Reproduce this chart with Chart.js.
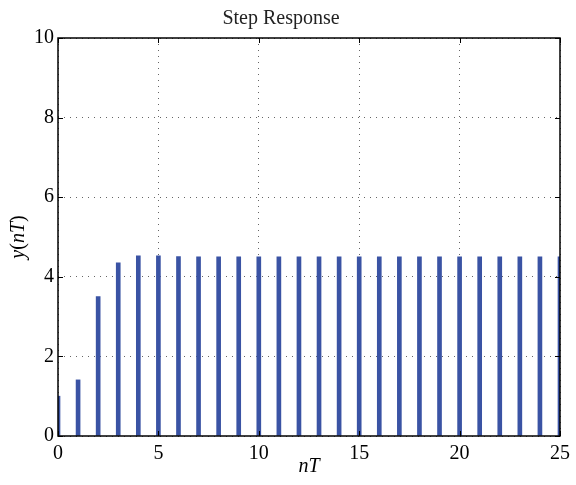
<!DOCTYPE html>
<html>
<head>
<meta charset="utf-8">
<script src="https://cdn.jsdelivr.net/npm/chart.js"></script>
<style>
  html,body{margin:0;padding:0;background:#fff}
  #wrap{width:576px;height:485px}
</style>
</head>
<body>
<div id="wrap"><canvas id="c"></canvas></div>
<script>
const nValues=[0,1,2,3,4,5,6,7,8,9,10,11,12,13,14,15,16,17,18,19,20,21,22,23,24,25];
const yValues=[1.0,1.41,3.5,4.35,4.53,4.53,4.51,4.5,4.5,4.5,4.5,4.5,4.5,4.5,4.5,4.5,4.5,4.5,4.5,4.5,4.5,4.5,4.5,4.5,4.5,4.5];
const xTicks=[0,5,10,15,20,25];
const yTicks=[0,2,4,6,8,10];
const titleText="Step Response";

const SERIF="'Liberation Serif','Times New Roman',serif";

// box, inward ticks and axis labels in MATLAB style
const matlabFrame={
  id:"matlabFrame",
  afterDraw(chart){
    const {ctx,chartArea:a,scales:{x,y}}=chart;
    ctx.save();
    ctx.strokeStyle="#000";
    ctx.lineWidth=1;
    ctx.beginPath();
    xTicks.forEach(v=>{
      const p=Math.round(x.getPixelForValue(v))+0.5;
      ctx.moveTo(p,a.bottom);ctx.lineTo(p,a.bottom-5);
      ctx.moveTo(p,a.top);ctx.lineTo(p,a.top+5);
    });
    yTicks.forEach(v=>{
      const p=Math.round(y.getPixelForValue(v))+0.5;
      ctx.moveTo(a.left,p);ctx.lineTo(a.left+5,p);
      ctx.moveTo(a.right,p);ctx.lineTo(a.right-5,p);
    });
    ctx.stroke();
    ctx.lineWidth=1.5;
    ctx.strokeRect(a.left,a.top,a.right-a.left,a.bottom-a.top);

    ctx.fillStyle="#000";
    ctx.textBaseline="middle";
    // x label
    ctx.font="italic 20px "+SERIF;
    ctx.textAlign="center";
    ctx.fillText("nT",(a.left+a.right)/2,467);
    // y label with mixed styles
    const parts=[["y",true],["(",false],["nT",true],[")",false]];
    const fontOf=it=>(it?"italic ":"")+"20px "+SERIF;
    let total=0;
    parts.forEach(([t,it])=>{ctx.font=fontOf(it);total+=ctx.measureText(t).width;});
    ctx.translate(19,(a.top+a.bottom)/2);
    ctx.rotate(-Math.PI/2);
    ctx.textAlign="left";
    let px=-total/2;
    parts.forEach(([t,it])=>{ctx.font=fontOf(it);ctx.fillText(t,px,0);px+=ctx.measureText(t).width;});
    ctx.restore();
  }
};

new Chart(document.getElementById("c"),{
  type:"bar",
  data:{
    datasets:[{
      data:nValues.map((n,i)=>({x:n,y:yValues[i]})),
      backgroundColor:"#3a53a4",
      borderWidth:0,
      barThickness:4
    }]
  },
  options:{
    responsive:true,
    maintainAspectRatio:false,
    animation:false,
    layout:{padding:{top:0,right:14,left:0,bottom:0}},
    plugins:{
      legend:{display:false},
      tooltip:{enabled:false},
      title:{
        display:true,
        text:titleText,
        color:"#222",
        font:{family:SERIF,size:20,weight:"normal"},
        padding:{top:7,bottom:7}
      }
    },
    scales:{
      x:{
        type:"linear",
        min:0,max:25,
        offset:false,
        afterBuildTicks(s){s.ticks=xTicks.map(v=>({value:v}));},
        afterFit(s){s.height=49;},
        grid:{offset:false,color:"#666",lineWidth:1,drawTicks:false},
        border:{display:false,dash:[1,5]},
        ticks:{color:"#000",padding:6,maxRotation:0,font:{family:SERIF,size:20}}
      },
      y:{
        min:0,max:10,
        afterBuildTicks(s){s.ticks=yTicks.map(v=>({value:v}));},
        afterFit(s){s.width=58;},
        grid:{color:"#666",lineWidth:1,drawTicks:false},
        border:{display:false,dash:[1,5]},
        ticks:{color:"#000",padding:4,font:{family:SERIF,size:20}}
      }
    }
  },
  plugins:[matlabFrame]
});
</script>
</body>
</html>
